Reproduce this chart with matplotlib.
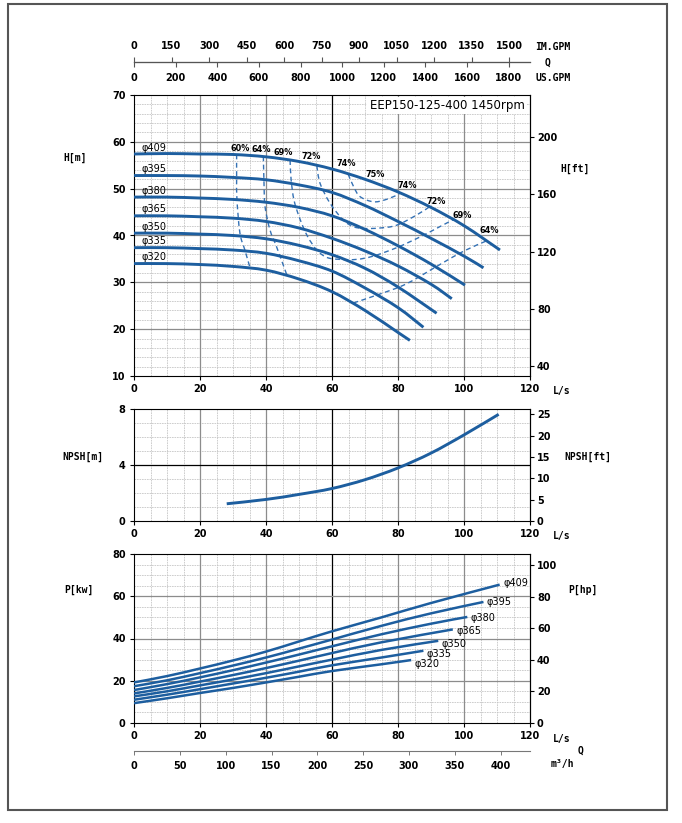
import matplotlib.pyplot as plt
import numpy as np
from matplotlib.patches import Rectangle, PathPatch
from matplotlib.path import Path

plt.rcParams['font.family'] = ['DejaVu Sans']
plt.rcParams['font.weight'] = 'bold'

# ---- values ----
DIAMETERS = ['φ409', 'φ395', 'φ380', 'φ365', 'φ350', 'φ335', 'φ320']

# head curves: Q [L/s] -> H [m]
HQ_409 = [0, 10, 20, 30, 40, 50, 60, 70, 80, 90, 100, 110.9]
HH_409 = [57.4, 57.5, 57.4, 57.3, 56.8, 55.8, 54.2, 52.0, 49.3, 46.0, 42.1, 36.9]
HQ_395 = [0, 10, 20, 30, 40, 50, 60, 70, 80, 90, 100, 105.9]
HH_395 = [52.8, 52.8, 52.7, 52.4, 51.9, 50.8, 49.2, 46.4, 43.0, 39.4, 35.6, 33.1]
HQ_380 = [0, 10, 20, 30, 40, 50, 60, 70, 80, 90, 100.3]
HH_380 = [48.2, 48.2, 48.0, 47.7, 47.1, 46.0, 44.2, 41.3, 37.8, 33.9, 29.4]
HQ_365 = [0, 10, 20, 30, 40, 50, 60, 70, 80, 90, 96.3]
HH_365 = [44.2, 44.2, 44.0, 43.7, 43.0, 41.6, 39.4, 36.7, 33.5, 29.6, 26.5]
HQ_350 = [0, 10, 20, 30, 40, 50, 60, 70, 80, 91.7]
HH_350 = [40.5, 40.5, 40.3, 40.0, 39.3, 37.9, 35.9, 33.0, 29.0, 23.4]
HQ_335 = [0, 10, 20, 30, 40, 50, 60, 70, 80, 87.7]
HH_335 = [37.4, 37.4, 37.2, 36.9, 36.2, 34.6, 32.4, 28.8, 24.6, 20.4]
HQ_320 = [0, 10, 20, 30, 40, 50, 60, 70, 80, 83.6]
HH_320 = [34.0, 34.0, 33.8, 33.4, 32.6, 30.7, 28.0, 24.0, 19.3, 17.6]

# efficiency iso-lines (dashed) in the Q-H field
EFF_60_Q = [31.1, 31.1, 31.2, 32.1, 33.6, 35.2]
EFF_60_H = [57.3, 52.0, 47.6, 40.5, 36.9, 33.0]
EFF_64L_Q = [39.2, 39.4, 39.7, 41.2, 43.2, 46.3]
EFF_64L_H = [56.9, 51.0, 46.2, 41.2, 37.6, 31.6]
EFF_64R_Q = [66.5, 74.5, 82.6, 92.7, 100.0, 107.0]
EFF_64R_H = [25.6, 27.5, 29.7, 33.8, 36.7, 38.9]
EFF_69_Q = [47.3, 47.6, 48.5, 50.3, 52.6, 55.5, 58.5, 62.4, 67.5, 72.5, 79.6, 86.7, 92.7, 96.8]
EFF_69_H = [56.1, 52.0, 47.5, 43.5, 39.8, 36.8, 35.3, 34.9, 34.9, 35.6, 37.4, 39.7, 41.9, 43.4]
EFF_72_Q = [55.4, 56.4, 59.4, 63.4, 66.5, 69.5, 74.5, 79.6, 85.7, 89.7]
EFF_72_H = [54.9, 51.1, 46.9, 43.3, 41.9, 41.5, 41.6, 42.2, 44.4, 46.2]
EFF_74_Q = [64.9, 66.5, 68.5, 72.5, 76.0, 79.6, 80.6]
EFF_74_H = [53.1, 50.5, 48.3, 47.2, 47.6, 48.6, 49.1]

EFF_LABELS = ['60%', '64%', '69%', '72%', '74%', '75%', '74%', '72%', '69%', '64%']
EFF_LABEL_Q = [32.1, 38.7, 45.2, 53.8, 64.2, 73.0, 82.8, 91.7, 99.6, 107.7]
EFF_LABEL_H = [58.6, 58.3, 57.7, 56.8, 55.3, 53.1, 50.6, 47.2, 44.2, 41.0]

# NPSH required
NPSH_Q = [28.1, 40, 50, 60, 70, 80, 90, 100, 110.5]
NPSH_M = [1.23, 1.54, 1.90, 2.32, 2.95, 3.79, 4.85, 6.15, 7.62]

# shaft power: Q [L/s] -> P [kW]
PQ_409 = [0, 10, 20, 30, 40, 50, 60, 75, 90, 110.8]
PP_409 = [19.2, 22.2, 25.8, 29.6, 33.8, 38.6, 43.4, 50.0, 56.8, 65.5]
PQ_395 = [0, 10, 20, 30, 40, 50, 60, 75, 90, 105.9]
PP_395 = [17.4, 20.2, 23.6, 27.2, 31.0, 35.2, 39.5, 46.0, 51.9, 57.3]
PQ_380 = [0, 10, 20, 30, 40, 50, 60, 75, 90, 101.0]
PP_380 = [15.6, 18.4, 21.6, 25.0, 28.6, 32.4, 36.3, 42.0, 47.0, 50.2]
PQ_365 = [0, 10, 20, 30, 40, 50, 60, 75, 96.6]
PP_365 = [14.0, 16.6, 19.6, 22.7, 26.0, 29.5, 33.1, 38.2, 44.3]
PQ_350 = [0, 10, 20, 30, 40, 50, 60, 75, 92.2]
PP_350 = [12.6, 15.0, 17.8, 20.6, 23.6, 26.8, 30.0, 34.6, 38.9]
PQ_335 = [0, 10, 20, 30, 40, 50, 60, 75, 87.7]
PP_335 = [11.0, 13.4, 16.0, 18.7, 21.4, 24.3, 27.3, 31.0, 34.2]
PQ_320 = [0, 10, 20, 30, 40, 50, 60, 75, 84.0]
PP_320 = [9.4, 11.7, 14.2, 16.6, 19.2, 21.9, 24.6, 27.8, 29.8]

head_q = [HQ_409, HQ_395, HQ_380, HQ_365, HQ_350, HQ_335, HQ_320]
head_h = [HH_409, HH_395, HH_380, HH_365, HH_350, HH_335, HH_320]
pow_q = [PQ_409, PQ_395, PQ_380, PQ_365, PQ_350, PQ_335, PQ_320]
pow_p = [PP_409, PP_395, PP_380, PP_365, PP_350, PP_335, PP_320]

# unit conversions
M_TO_FT = 3.2808
KW_TO_HP = 1.341
LS_TO_IMGPM = 13.198
LS_TO_USGPM = 15.850
LS_TO_M3H = 3.6

BLUE = '#1d5e9f'
W, H = 682.0, 823.0

fig = plt.figure(figsize=(6.82, 8.23), dpi=100)


def px_box(x0, y0, x1, y1):
    return [x0 / W, 1 - y1 / H, (x1 - x0) / W, (y1 - y0) / H]


def ftext(x, y, s, **kw):
    kw.setdefault('ha', 'center')
    kw.setdefault('va', 'center')
    fig.text(x / W, 1 - y / H, s, **kw)


def curve(ax, x, y, **kw):
    # smooth (Catmull-Rom as cubic Bezier) line through the read points
    pts = np.column_stack([x, y])
    verts, codes = [pts[0]], [Path.MOVETO]
    for i in range(len(pts) - 1):
        p0 = pts[i - 1] if i > 0 else pts[i]
        p1, p2 = pts[i], pts[i + 1]
        p3 = pts[i + 2] if i + 2 < len(pts) else pts[i + 1]
        verts += [p1 + (p2 - p0) / 6, p2 - (p3 - p1) / 6, p2]
        codes += [Path.CURVE4] * 3
    ax.add_patch(PathPatch(Path(verts, codes), fill=False, capstyle='butt', **kw))


def draw_grid(ax, minor_y, major_y, dark_y=()):
    for x in range(5, 120, 5):
        if x == 60:
            ax.axvline(x, color='black', lw=0.9, zorder=1)
        elif x % 20 == 0:
            ax.axvline(x, color='#8c8c8c', lw=0.9, zorder=1)
        else:
            ax.axvline(x, color='#c6c6c6', lw=0.6, ls=(0, (2, 1)), zorder=0.5)
    for y in minor_y:
        ax.axhline(y, color='#c6c6c6', lw=0.6, ls=(0, (2, 1)), zorder=0.5)
    for y in major_y:
        ax.axhline(y, color='#8c8c8c', lw=0.9, zorder=1)
    for y in dark_y:
        ax.axhline(y, color='black', lw=0.9, zorder=1)


def style(ax, ylim, yticks, right_k, right_ticks):
    ax.set_xlim(0, 120)
    ax.set_ylim(*ylim)
    ax.set_xticks(range(0, 121, 20))
    ax.set_yticks(yticks)
    ax.tick_params(labelsize=7, length=3, width=0.8, pad=3)
    for s in ax.spines.values():
        s.set_linewidth(0.8)
    sec = ax.secondary_yaxis('right', functions=(lambda v, k=right_k: v * k,
                                                 lambda v, k=right_k: v / k))
    sec.set_yticks(right_ticks)
    sec.tick_params(labelsize=7, length=3, width=0.8, pad=2)
    sec.spines['right'].set_linewidth(0.8)


# ---- head panel ----
ax_h = fig.add_axes(px_box(134, 95, 530, 376))
style(ax_h, (10, 70), range(10, 71, 10), M_TO_FT, range(40, 201, 40))
draw_grid(ax_h, [y for y in range(12, 70, 2) if y % 10], range(20, 70, 10))

for name, q, h in zip(DIAMETERS, head_q, head_h):
    curve(ax_h, q, h, ec=BLUE, lw=2.1, zorder=3)
    ax_h.annotate(name, xy=(q[0], h[0]), xytext=(5.5, 4.6), textcoords='offset points',
                  ha='left', va='center', fontsize=7, fontweight='normal', zorder=4)

for q, h in [(EFF_60_Q, EFF_60_H), (EFF_64L_Q, EFF_64L_H), (EFF_64R_Q, EFF_64R_H),
             (EFF_69_Q, EFF_69_H), (EFF_72_Q, EFF_72_H), (EFF_74_Q, EFF_74_H)]:
    curve(ax_h, q, h, ec='#3572b5', lw=1.0, ls=(0, (3.5, 2.5)), zorder=2)

for lab, q, h in zip(EFF_LABELS, EFF_LABEL_Q, EFF_LABEL_H):
    ax_h.text(q, h, lab, fontsize=5.9, ha='center', va='center', zorder=4)

ax_h.text(0.986, 0.962, 'EEP150-125-400 1450rpm', transform=ax_h.transAxes,
          ha='right', va='center', fontsize=8.5, fontweight='normal', zorder=5,
          bbox=dict(fc='white', ec='none', pad=1.5))

# ---- NPSH panel ----
ax_n = fig.add_axes(px_box(134, 409, 530, 521))
style(ax_n, (0, 8), [0, 4, 8], M_TO_FT, range(0, 26, 5))
draw_grid(ax_n, [1, 2, 3, 5, 6, 7], [], [4])
curve(ax_n, NPSH_Q, NPSH_M, ec=BLUE, lw=2.1, zorder=3)

# ---- power panel ----
ax_p = fig.add_axes(px_box(134, 554, 530, 723))
style(ax_p, (0, 80), range(0, 81, 20), KW_TO_HP, range(0, 101, 20))
draw_grid(ax_p, [5, 10, 15, 25, 30, 35, 45, 50, 55, 65, 70, 75], [20, 40, 60])

label_dy = [1.0, 0.0, -0.5, -1.0, -2.5, -2.5, -2.5]
for name, q, p, dy in zip(DIAMETERS, pow_q, pow_p, label_dy):
    curve(ax_p, q, p, ec=BLUE, lw=1.8, zorder=3)
    ax_p.annotate(name, xy=(q[-1], p[-1]), xytext=(2.5, dy), textcoords='offset points',
                  ha='left', va='center', fontsize=7, fontweight='normal', zorder=4)

# ---- flow scales: GPM on top, m3/h at the bottom ----
ax_q = fig.add_axes(px_box(134, 61.8, 530, 62.4))
ax_q.set_xlim(0, 120)
ax_q.set_xticks([])
ax_q.set_yticks([])
ax_q.patch.set_alpha(0)
for side in ('top', 'left', 'right'):
    ax_q.spines[side].set_visible(False)
ax_q.spines['bottom'].set_color('#555555')
ax_q.spines['bottom'].set_linewidth(0.8)
im = ax_q.secondary_xaxis('top', functions=(lambda q: q * LS_TO_IMGPM, lambda g: g / LS_TO_IMGPM))
im.set_xticks(range(0, 1501, 150))
im.tick_params(labelsize=7, length=3.5, width=0.8, pad=4, color='#555555')
im.spines['top'].set_color('#555555')
us = ax_q.secondary_xaxis('bottom', functions=(lambda q: q * LS_TO_USGPM, lambda g: g / LS_TO_USGPM))
us.set_xticks(range(0, 1801, 200))
us.tick_params(labelsize=7, length=3.5, width=0.8, pad=4, color='#555555')
us.spines['bottom'].set_color('#555555')

ax_m = fig.add_axes(px_box(134, 750.4, 530, 751.0))
ax_m.set_xlim(0, 120)
ax_m.set_xticks([])
ax_m.set_yticks([])
ax_m.patch.set_alpha(0)
for side in ('top', 'left', 'right'):
    ax_m.spines[side].set_visible(False)
ax_m.spines['bottom'].set_color('#777777')
ax_m.spines['bottom'].set_linewidth(0.7)
m3 = ax_m.secondary_xaxis('bottom', functions=(lambda q: q * LS_TO_M3H, lambda v: v / LS_TO_M3H))
m3.set_xticks(range(0, 401, 50))
m3.tick_params(labelsize=7, length=3, width=0.7, pad=4, color='#777777')
m3.spines['bottom'].set_color('#777777')

# ---- axis names ----
mono = dict(family='DejaVu Sans Mono', fontsize=7, fontweight='bold')
ftext(75, 158, 'H[m]', **mono)
ftext(575, 169, 'H[ft]', **mono)
ftext(83, 457, 'NPSH[m]', **mono)
ftext(588, 457, 'NPSH[ft]', **mono)
ftext(79, 590, 'P[kw]', **mono)
ftext(583, 590, 'P[hp]', **mono)
for y in (391, 536, 739):
    ftext(562, y, 'L/s', **mono)
ftext(535, 47, 'IM.GPM', ha='left', **mono)
ftext(548, 63, 'Q', **mono)
ftext(535, 78, 'US.GPM', ha='left', **mono)
ftext(581, 751, 'Q', **mono)
ftext(562, 764, 'm³/h', **mono)

fig.add_artist(Rectangle((8 / W, 1 - 810 / H), 659 / W, 806 / H, transform=fig.transFigure,
                         fill=False, ec='#555555', lw=1.5))

fig.savefig('out.png', dpi=100, facecolor='white')
